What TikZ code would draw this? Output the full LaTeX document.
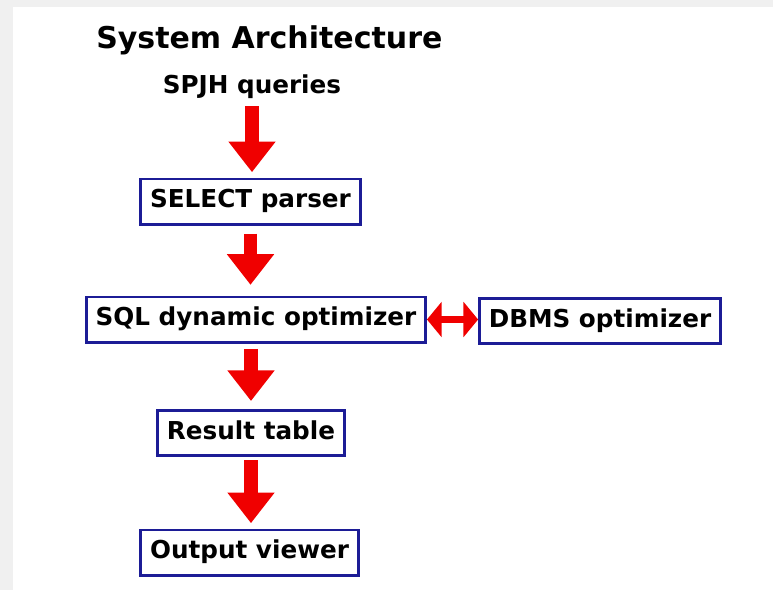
\documentclass[tikz,border=0pt]{standalone}
\usepackage{fontspec}
\setmainfont{DejaVu Sans}
\usetikzlibrary{arrows.meta}

\definecolor{boxblue}{RGB}{28,28,150}
\definecolor{flowred}{RGB}{240,0,0}

\begin{document}
\begin{tikzpicture}[x=0.75pt,y=0.75pt,yscale=-1,xscale=1,
	label text/.style={inner sep=0pt,font=\fontsize{18.5}{22}\selectfont\bfseries},
	stage box/.style={draw=boxblue,line width=2pt,fill=white,minimum height=34pt,inner xsep=7pt,
		text height=13.5pt,text depth=4pt,font=\fontsize{18.5}{22}\selectfont\bfseries},
	flow arrow/.style={draw=flowred,line width=10pt,-{Triangle[width=34pt,length=23pt,fill=flowred]}},
	link arrow/.style={draw=flowred,line width=5pt,{Triangle[width=26pt,length=11pt,fill=flowred]}-{Triangle[width=26pt,length=11pt,fill=flowred]}}]
	\useasboundingbox (0,0) rectangle (773,590);
	%page background
	\fill [gray!12] (0,0) rectangle (773,590);
	\fill [white] (13,7) rectangle (773,590);

	% Text Node
	\node (title) [anchor=base west,inner sep=0pt,font=\fontsize{22.5}{27}\selectfont\bfseries] at (96,48) {System Architecture};
	% Text Node
	\node (queries) [label text,anchor=base] at (252,93) {SPJH queries};

	% Boxes
	\node (parser) [stage box] at (250.5,201.5) {SELECT parser};
	\node (dynopt) [stage box] at (256,319.5) {SQL dynamic optimizer};
	\node (dbmsopt) [stage box] at (600,321) {DBMS optimizer};
	\node (result) [stage box] at (251,433) {Result table};
	\node (viewer) [stage box] at (249.5,552.5) {Output viewer};

	% Arrows (yscale=-1: a positive yshift points down)
	\draw [flow arrow] ([yshift=6pt]queries.south) -- ([yshift=-4pt]queries.south |- parser.north);
	\draw [flow arrow] ([yshift=6pt]parser.south) -- ([yshift=-8pt]parser.south |- dynopt.north);
	\draw [flow arrow] ([yshift=4pt]result.north |- dynopt.south) -- ([yshift=-6pt]result.north);
	\draw [flow arrow] ([yshift=2.5pt]result.south) -- ([yshift=-4pt]result.south |- viewer.north);
	\draw [link arrow] (dynopt.east) -- (dbmsopt.west |- dynopt.east);

\end{tikzpicture}
\end{document}
